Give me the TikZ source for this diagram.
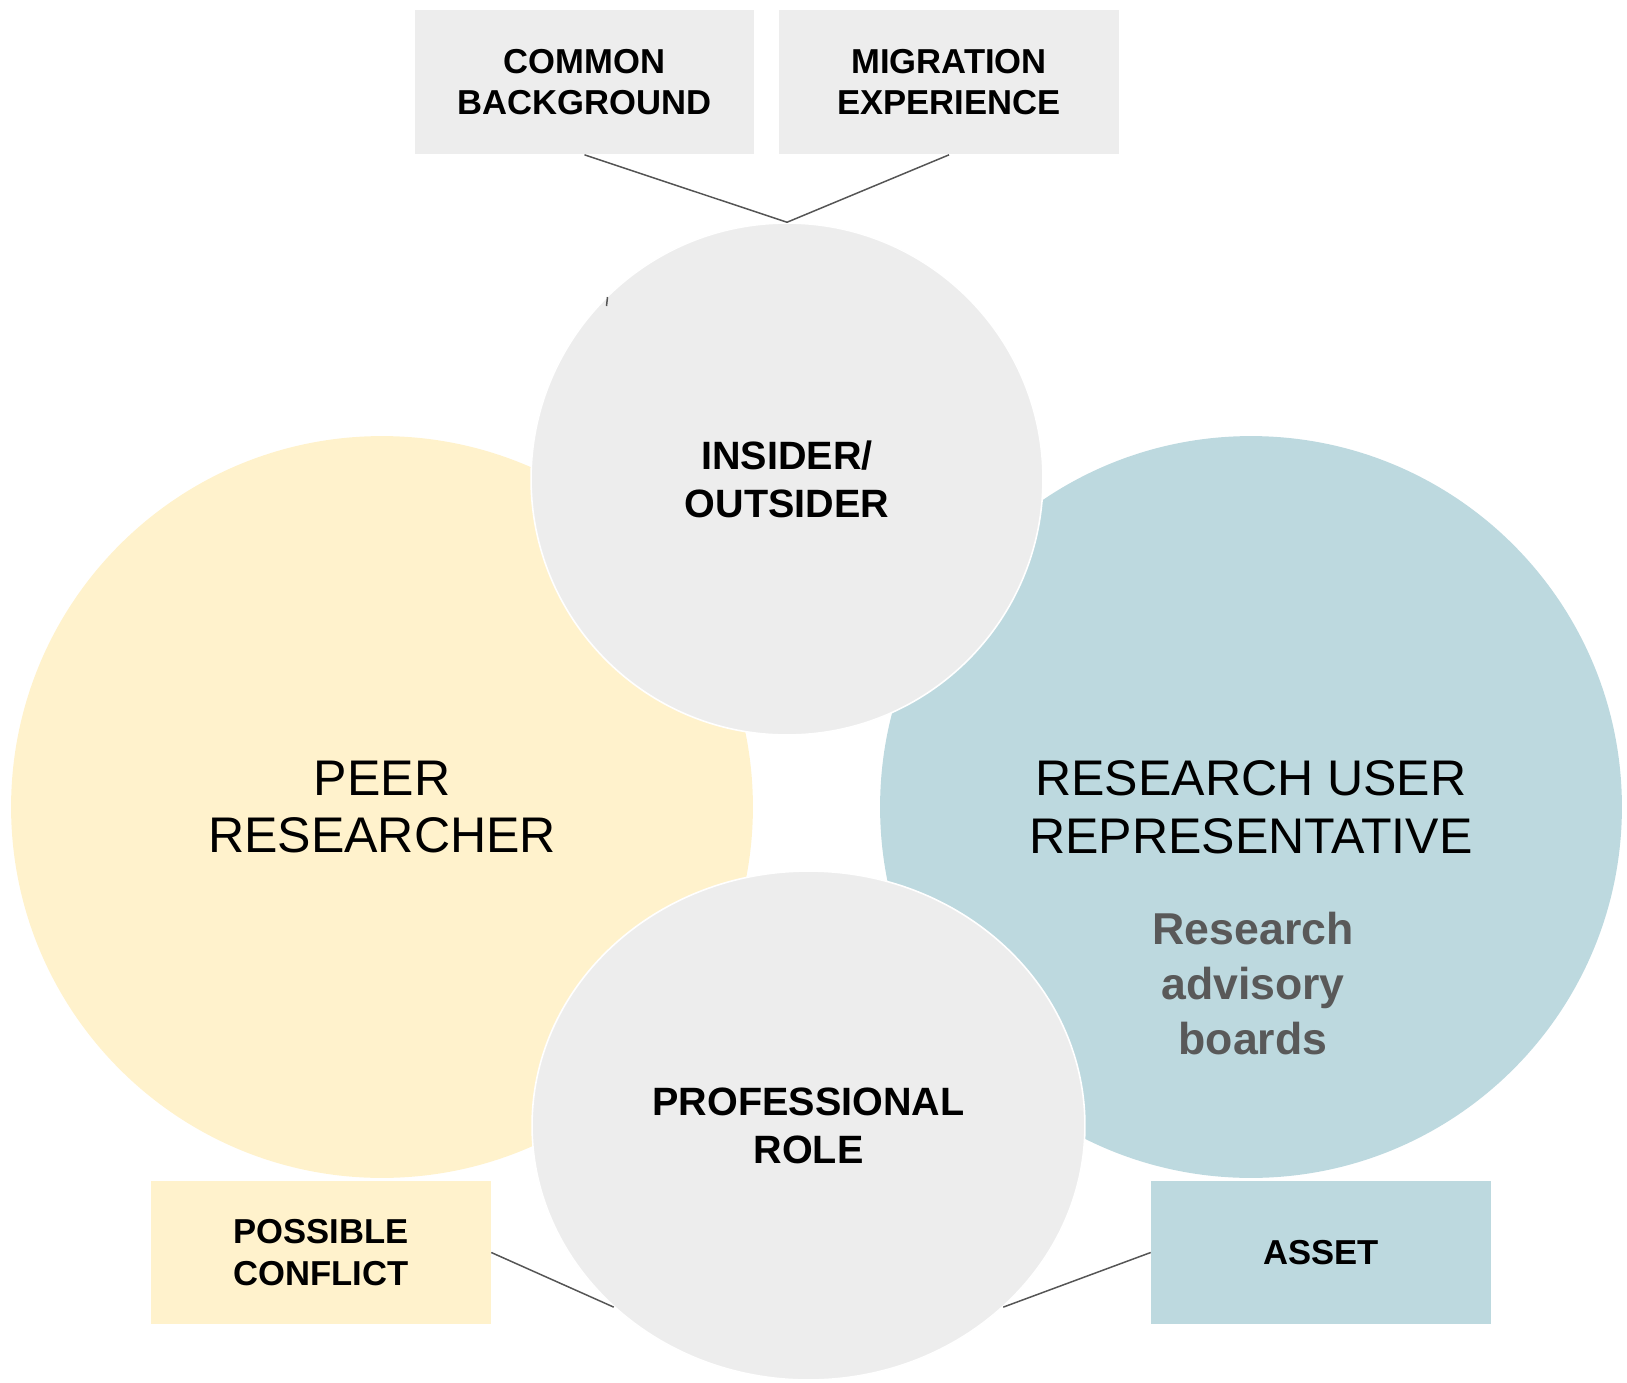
\documentclass[tikz,border=0pt]{standalone}
\usepackage{fontspec}
\setmainfont{Liberation Sans}
\usepackage{tikz}
\usetikzlibrary{shapes,positioning,calc}
\usepackage{xcolor}

\definecolor{peercol}{HTML}{FFF2CC}
\definecolor{usercol}{HTML}{BDD9DF}
\definecolor{greycol}{HTML}{EDEDED}
\definecolor{linecol}{HTML}{555555}
\definecolor{notecol}{HTML}{595959}

\begin{document}
\begin{tikzpicture}[x=0.02cm, y=-0.02cm,
    bigcircle/.style={circle, inner sep=0pt, minimum size=14.84cm, align=center,
        font=\fontsize{28.5}{33}\selectfont},
    midcircle/.style={fill=greycol, draw=white, line width=0.9pt, inner sep=0pt, align=center,
        font=\fontsize{22.5}{27.3}\selectfont\bfseries},
    tag/.style={rectangle, inner sep=0pt, minimum width=6.8cm, minimum height=2.9cm, align=center,
        font=\fontsize{19.7}{23.6}\selectfont\bfseries},
    link/.style={draw=linecol, line width=0.85pt}]
    \useasboundingbox (0,0) rectangle (1627,1383);

    % The two roles
    \node[bigcircle, fill=peercol] (peer) at (382,807) {PEER\\RESEARCHER};
    \node[bigcircle, fill=usercol] (user) at (1251,807) {RESEARCH USER\\REPRESENTATIVE};
    \node[text=notecol, align=center, font=\fontsize{25.4}{31.3}\selectfont\bfseries]
        (boards) at (1253,984) {Research\\advisory\\boards};

    % Overlapping themes
    \node[midcircle, circle, minimum size=10.24cm] (insider) at (787,479) {INSIDER/\\OUTSIDER};
    \node[midcircle, ellipse, minimum width=11.06cm, minimum height=10.18cm]
        (role) at (808.5,1125.5) {PROFESSIONAL\\ROLE};

    % Labels
    \node[tag, fill=greycol] (common) at (584.5,82) {COMMON\\BACKGROUND};
    \node[tag, fill=greycol] (migration) at (949,82) {MIGRATION\\EXPERIENCE};
    \node[tag, fill=peercol, minimum height=2.86cm] (conflict) at (321,1252.5) {POSSIBLE\\CONFLICT};
    \node[tag, fill=usercol, minimum height=2.86cm] (asset) at (1321,1252.5) {ASSET};

    % Connectors
    \draw[link] (common.south) -- (insider.north);
    \draw[link] (migration.south) -- (insider.north);
    \draw[link] (conflict.east) -- (role.223);
    \draw[link] (asset.west) -- (role.317);

    % small mark
    \draw[link] (607.5,297) -- (606.5,306);
\end{tikzpicture}
\end{document}
